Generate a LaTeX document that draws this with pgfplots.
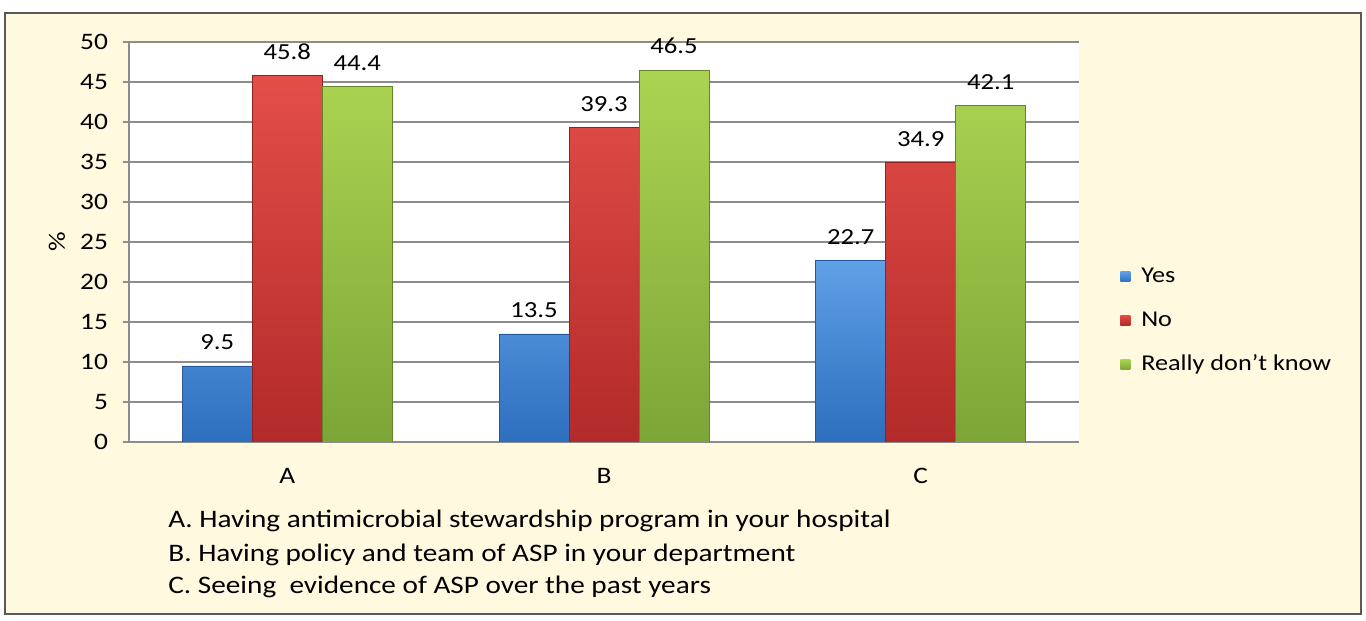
\documentclass[border=0pt]{standalone}
\usepackage{pgfplots}
\pgfplotsset{compat=1.18}
\usepackage{fontspec}
\setmainfont{Carlito}[FakeStretch=1.16]
\definecolor{bgcream}{RGB}{255,249,224}
\definecolor{yesTop}{RGB}{95,160,230}
\definecolor{yesBot}{RGB}{45,110,190}
\definecolor{noTop}{RGB}{228,78,72}
\definecolor{noBot}{RGB}{178,42,42}
\definecolor{gnTop}{RGB}{172,212,82}
\definecolor{gnBot}{RGB}{125,165,55}
\definecolor{gridgray}{RGB}{140,140,140}
\begin{document}
\begin{tikzpicture}[x=1pt,y=1pt]
\useasboundingbox (0,0) rectangle (683,310.5);
\fill[bgcream] (2,3) rectangle (681,304.5);
\draw[gray!70!black, line width=1.2pt] (2.6,3.6) rectangle (680.4,303.9);
\begin{axis}[
  at={(64.5pt,89.5pt)}, anchor=south west,
  scale only axis, width=475pt, height=200pt,
  xmin=-0.5, xmax=2.5, ymin=0, ymax=50,
  ybar=0pt, bar width=35pt,
  xtick={0,1,2}, xticklabels={A,B,C},
  ytick={0,5,...,50},
  /pgf/number format/assume math mode=true,
  axis background/.style={fill=white},
  ymajorgrids, grid style={gridgray, line width=0.8pt},
  axis lines*=left, axis line style={gridgray, line width=0.8pt},
  tick align=outside, major tick length=3pt,
  xtick style={draw=none}, ytick style={gridgray, line width=0.8pt},
  ticklabel style={font=\fontsize{11.8}{14}\selectfont, text=black},
  yticklabel style={xshift=-4pt},
  xticklabel style={anchor=base, yshift=-17.8pt},
  ylabel={\%},
  every axis y label/.style={at={(axis description cs:-0.0758,0.5)}, rotate=90, anchor=center, font=\fontsize{11.8}{14}\selectfont},
  nodes near coords={\pgfmathprintnumber[fixed,fixed zerofill,precision=1]{\pgfplotspointmeta}},
  every node near coord/.append style={font=\fontsize{11.5}{14}\selectfont, text=black, yshift=4.5pt},
  legend style={at={(axis description cs:1.043,0.3025)}, anchor=west, draw=none, fill=none,
    font=\fontsize{11.3}{14}\selectfont, inner sep=0pt, row sep=10pt, column sep=4pt,
    nodes={inner sep=1.5pt}},
  legend cell align=left,
  legend image code/.code={\path[#1, draw=none] (0pt,-2.6pt) rectangle (5pt,2.6pt);},
]
\addplot[top color=yesTop, bottom color=yesBot, draw=yesBot!80!black, line width=0.3pt] coordinates {(0,9.5) (1,13.5) (2,22.7)};
\addplot[top color=noTop, bottom color=noBot, draw=noBot!80!black, line width=0.3pt] coordinates {(0,45.8) (1,39.3) (2,34.9)};
\addplot[top color=gnTop, bottom color=gnBot, draw=gnBot!80!black, line width=0.3pt] coordinates {(0,44.4) (1,46.5) (2,42.1)};
\legend{Yes,No,Really don’t know}
\end{axis}
\node[anchor=base west, inner sep=0pt, font=\fontsize{12.6}{15}\selectfont] at (84,46.5) {A. Having antimicrobial stewardship program in your hospital};
\node[anchor=base west, inner sep=0pt, font=\fontsize{12.6}{15}\selectfont] at (84,29.7) {B. Having policy and team of ASP in your department};
\node[anchor=base west, inner sep=0pt, font=\fontsize{12.6}{15}\selectfont] at (84,13.5) {C. Seeing\ \ evidence of ASP over the past years};
\end{tikzpicture}
\end{document}
